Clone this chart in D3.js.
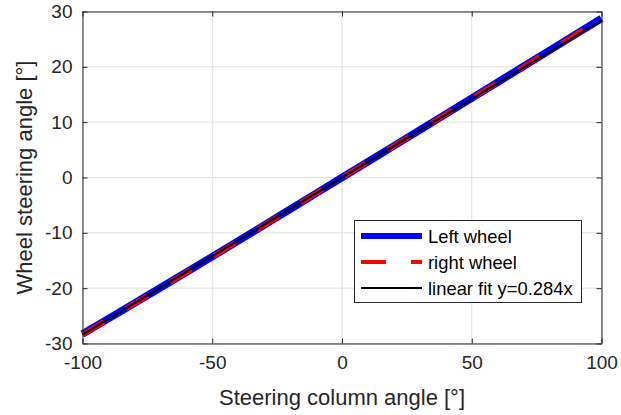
<!DOCTYPE html>
<html>
<head>
<meta charset="utf-8">
<script src="https://cdn.jsdelivr.net/npm/d3@7"></script>
<style>
  html, body { margin: 0; padding: 0; background: #fff; }
  text { font-family: "Liberation Sans", Arial, Helvetica, sans-serif; }
</style>
</head>
<body>
<svg id="chart" width="621" height="415"></svg>
<script>
// Steering column angle samples [deg]
const columnAngle = [-100, -90, -80, -70, -60, -50, -40, -30, -20, -10, 0, 10, 20, 30, 40, 50, 60, 70, 80, 90, 100];
// Measured wheel steering angles [deg]
const leftWheel  = [-28.3, -25.5, -22.72, -19.93, -17.12, -14.3, -11.46, -8.6, -5.73, -2.86, 0, 2.86, 5.72, 8.59, 11.46, 14.34, 17.22, 20.1, 22.98, 25.86, 28.74];
const rightWheel = [-28.4, -25.58, -22.78, -19.98, -17.16, -14.33, -11.48, -8.61, -5.74, -2.87, 0, 2.85, 5.71, 8.57, 11.43, 14.3, 17.17, 20.05, 22.93, 25.82, 28.7];
const fitSlope = 0.284;

const xTicks = [-100, -50, 0, 50, 100];
const yTicks = [-30, -20, -10, 0, 10, 20, 30];
const legendLabels = ["Left wheel", "right wheel", "linear fit y=0.284x"];

const svg = d3.select("#chart");
const m = { left: 82.5, right: 601.5, top: 11.5, bottom: 343.5 };

const x = d3.scaleLinear().domain([-100, 100]).range([m.left, m.right]);
const y = d3.scaleLinear().domain([-30, 30]).range([m.bottom, m.top]);

const axisColor = "#262626";
const gridColor = "#dfdfdf";
const fmt = d => String(d); // plain hyphen-minus for negatives

// grid
const grid = svg.append("g");
grid.selectAll(".gx").data(xTicks).enter().append("line")
  .attr("x1", d => x(d)).attr("x2", d => x(d))
  .attr("y1", m.top).attr("y2", m.bottom)
  .attr("stroke", gridColor).attr("stroke-width", 1);
grid.selectAll(".gy").data(yTicks).enter().append("line")
  .attr("x1", m.left).attr("x2", m.right)
  .attr("y1", d => y(d)).attr("y2", d => y(d))
  .attr("stroke", gridColor).attr("stroke-width", 1);

// data lines
const line = d3.line().x(d => x(d[0])).y(d => y(d[1]));
const leftData = columnAngle.map((a, i) => [a, leftWheel[i]]);
const rightData = columnAngle.map((a, i) => [a, rightWheel[i]]);
const fitData = [[-100, fitSlope * -100], [100, fitSlope * 100]];

const plot = svg.append("g");
plot.append("path").datum(leftData).attr("d", line)
  .attr("fill", "none").attr("stroke", "#0000ff").attr("stroke-width", 7.5);
plot.append("path").datum(rightData).attr("d", line)
  .attr("fill", "none").attr("stroke", "#ff0000").attr("stroke-width", 5)
  .attr("stroke-dasharray", "25,26");
plot.append("path").datum(fitData).attr("d", line)
  .attr("fill", "none").attr("stroke", "#000").attr("stroke-width", 2);

// axes (box with inward ticks on all sides)
const tickLen = 5;
const xAxisB = d3.axisBottom(x).tickValues(xTicks).tickSizeInner(-tickLen).tickSizeOuter(0).tickPadding(12).tickFormat(fmt);
const xAxisT = d3.axisTop(x).tickValues(xTicks).tickSizeInner(-tickLen).tickSizeOuter(0).tickFormat("");
const yAxisL = d3.axisLeft(y).tickValues(yTicks).tickSizeInner(-tickLen).tickSizeOuter(0).tickPadding(10).tickFormat(fmt);
const yAxisR = d3.axisRight(y).tickValues(yTicks).tickSizeInner(-tickLen).tickSizeOuter(0).tickFormat("");

function styleAxis(g) {
  g.selectAll("path").attr("stroke", axisColor).attr("stroke-width", 1);
  g.selectAll("line").attr("stroke", axisColor).attr("stroke-width", 1);
  g.selectAll("text").attr("fill", axisColor).style("font-size", "19px");
}
svg.append("g").attr("transform", `translate(0,${m.bottom})`).call(xAxisB).call(styleAxis);
svg.append("g").attr("transform", `translate(0,${m.top})`).call(xAxisT).call(styleAxis);
svg.append("g").attr("transform", `translate(${m.left},0)`).call(yAxisL).call(styleAxis);
svg.append("g").attr("transform", `translate(${m.right},0)`).call(yAxisR).call(styleAxis);

// axis labels
svg.append("text")
  .attr("x", (m.left + m.right) / 2).attr("y", 405)
  .attr("text-anchor", "middle").attr("fill", axisColor)
  .style("font-size", "22px")
  .text("Steering column angle [°]");
svg.append("text")
  .attr("transform", `translate(32,${(m.top + m.bottom) / 2}) rotate(-90)`)
  .attr("text-anchor", "middle").attr("fill", axisColor)
  .style("font-size", "22px")
  .text("Wheel steering angle [°]");

// legend
const lg = svg.append("g");
lg.append("rect")
  .attr("x", 354.5).attr("y", 220.5).attr("width", 227).attr("height", 82)
  .attr("fill", "#fff").attr("stroke", axisColor).attr("stroke-width", 1);
const legendStyles = [
  { color: "#0000ff", width: 6, dash: null },
  { color: "#ff0000", width: 4, dash: "25,25" },
  { color: "#000", width: 2, dash: null }
];
const ly = [236, 262, 288];
legendLabels.forEach((lab, i) => {
  const s = legendStyles[i];
  const ln = lg.append("line")
    .attr("x1", 361).attr("x2", 422).attr("y1", ly[i]).attr("y2", ly[i])
    .attr("stroke", s.color).attr("stroke-width", s.width);
  if (s.dash) ln.attr("stroke-dasharray", s.dash);
  lg.append("text")
    .attr("x", 428).attr("y", ly[i]).attr("dy", "0.36em")
    .attr("fill", "#000").style("font-size", "18.4px")
    .text(lab);
});
</script>
</body>
</html>
